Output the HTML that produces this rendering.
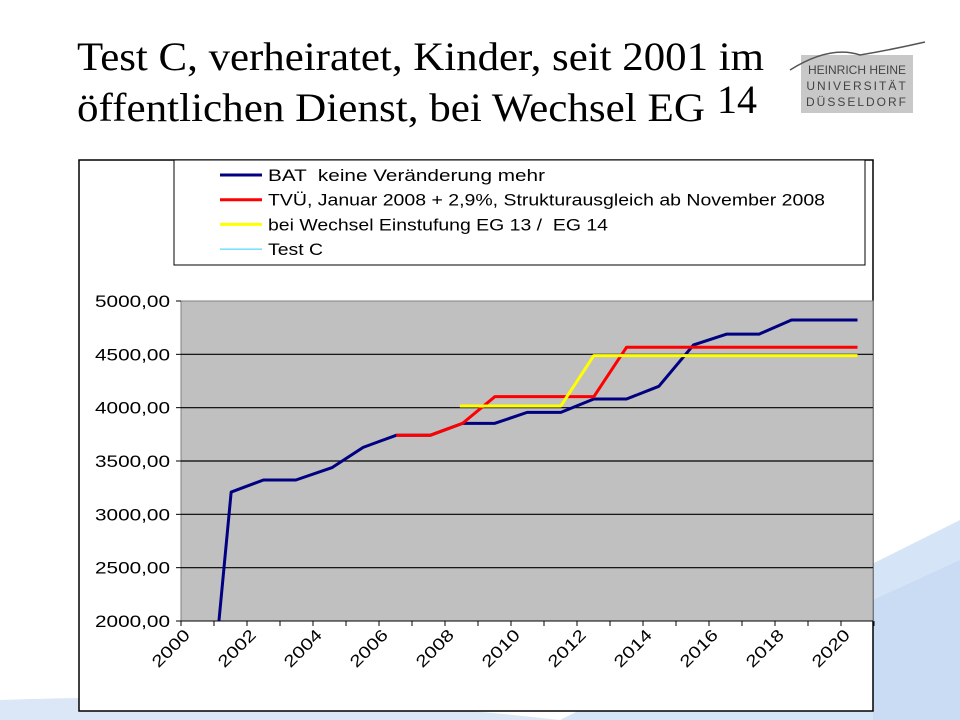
<!DOCTYPE html>
<html><head><meta charset="utf-8"><style>
body{margin:0;background:#fff;}
svg{display:block;font-family:"Liberation Sans",sans-serif;}
</style></head><body>
<svg id="c" width="960" height="720" viewBox="0 0 960 720">
<g>
<path d="M560 720 L960 520 L960 720 Z" fill="#d6e4f7"/>
<path d="M0 720 L0 700 Q300 690 560 720 Z" fill="#dbe6f6"/>
<path d="M873 600 L960 560 L960 720 L873 720 Z" fill="#c9dcf4"/>
</g>
<text x="77" y="70" font-family="Liberation Serif, serif" font-size="40" textLength="687" lengthAdjust="spacingAndGlyphs">Test C, verheiratet, Kinder, seit 2001 im</text>
<text x="77" y="121" font-family="Liberation Serif, serif" font-size="40" textLength="628" lengthAdjust="spacingAndGlyphs">öffentlichen Dienst, bei Wechsel EG</text>
<text x="717" y="113" font-family="Liberation Serif, serif" font-size="40">14</text>
<g>
<rect x="801" y="55" width="112" height="58" fill="#c8c8c8"/>
<path d="M790 70 Q830 45 860 55 Q890 50 925 42" stroke="#555" fill="none" stroke-width="1.5"/>
<text x="857" y="74" font-size="12" text-anchor="middle" fill="#444">HEINRICH HEINE</text>
<text x="857" y="90" font-size="12" text-anchor="middle" fill="#444" letter-spacing="2">UNIVERSITÄT</text>
<text x="857" y="106" font-size="12" text-anchor="middle" fill="#444" letter-spacing="2">DÜSSELDORF</text>
</g>
<rect x="79" y="160" width="794" height="551" fill="#fff" stroke="#000" stroke-width="1.5"/>
<rect x="181" y="301" width="692" height="320" fill="#c0c0c0" stroke="#808080"/>
<g id="grid"></g><g id="yax"></g><g id="xax"></g><g id="series"></g>
<g>
<rect x="174" y="160" width="691" height="105" fill="#fff" stroke="#000"/>
<g id="leg"></g>
</g>
</svg>
<script>
const years=[2001.15,2001.52,2002.5,2003.48,2004.57,2005.52,2006.52,2007.55,2008.53,2009.51,2010.49,2011.51,2012.51,2013.5,2014.48,2015.53,2016.54,2017.52,2018.5,2020.5];
const batValues=[2000,3209,3322,3322,3437,3628,3741,3741,3853,3853,3956,3956,4081,4081,4200,4588,4690,4690,4822,4822];
const tvuYears=[2006.52,2007.55,2008.53,2009.51,2012.51,2013.5,2020.5];
const tvuValues=[3741,3741,3853,4103,4103,4566,4566];
const egYears=[2008.45,2011.51,2012.51,2020.5];
const egValues=[4016,4016,4488,4488];
const yTicks=[2000,2500,3000,3500,4000,4500,5000];
const yTickLabels=["2000,00","2500,00","3000,00","3500,00","4000,00","4500,00","5000,00"];
const xTickLabels=["2000","2002","2004","2006","2008","2010","2012","2014","2016","2018","2020"];
const legendLabels=["BAT  keine Veränderung mehr","TVÜ, Januar 2008 + 2,9%, Strukturausgleich ab November 2008","bei Wechsel Einstufung EG 13 /  EG 14","Test C"];
const legendWidths=[277,557,340,55];
const NS="http://www.w3.org/2000/svg";
const X=y=>181+33.0*(y-2000), Y=v=>621-(v-2000)/3000*320;
function mk(t,a,p){const e=document.createElementNS(NS,t);for(const k in a)e.setAttribute(k,a[k]);document.getElementById(p).appendChild(e);return e;}
yTicks.forEach((v,i)=>{
 if(v>2000&&v<5000){const g=mk('line',{x1:181,x2:873,y1:Y(v),y2:Y(v),stroke:'#000','stroke-width':1.2},'grid');
 
 }
 mk('line',{x1:176,x2:181,y1:Y(v),y2:Y(v),stroke:'#000'},'yax');
 const t=mk('text',{x:95,y:Y(v)+6,'font-size':16.5,textLength:75,lengthAdjust:'spacingAndGlyphs'},'yax');t.textContent=yTickLabels[i];
 
 
});
mk('line',{x1:181,x2:873,y1:621,y2:621,stroke:'#000'},'xax');
for(let y=2000;y<=2021;y++)mk('line',{x1:X(y),x2:X(y),y1:621,y2:626,stroke:'#000'},'xax');
xTickLabels.forEach(l=>{const x=X(+l);const t=mk('text',{x:x+10,y:636,'text-anchor':'end','font-size':16.5,textLength:46,lengthAdjust:'spacingAndGlyphs',transform:`rotate(-45 ${x+10} 636)`},'xax');t.textContent=l;
 
 });
function line(xs,vs,col,name){const p=mk('polyline',{points:xs.map((x,i)=>X(x)+','+Y(vs[i])).join(' '),fill:'none',stroke:col,'stroke-width':3,'stroke-linejoin':'round'},'series');
 
 }
line(years,batValues,'#000080','series-bat');
line(tvuYears,tvuValues,'#ff0000','series-tvu');
line(egYears,egValues,'#ffff00','series-eg-wechsel');
const cols=['#000080','#ff0000','#ffff00','#33ccff'];
legendLabels.forEach((l,i)=>{const yy=175+i*24.7;
 mk('line',{x1:220,x2:262,y1:yy,y2:yy,stroke:cols[i],'stroke-width':i==3?1:3},'leg');
 const t=mk('text',{x:268,y:yy+6,'font-size':16.5,textLength:legendWidths[i],lengthAdjust:'spacingAndGlyphs','xml:space':'preserve'},'leg');t.setAttribute('style','white-space:pre');t.textContent=l;
 
 });
</script>
</body></html>
